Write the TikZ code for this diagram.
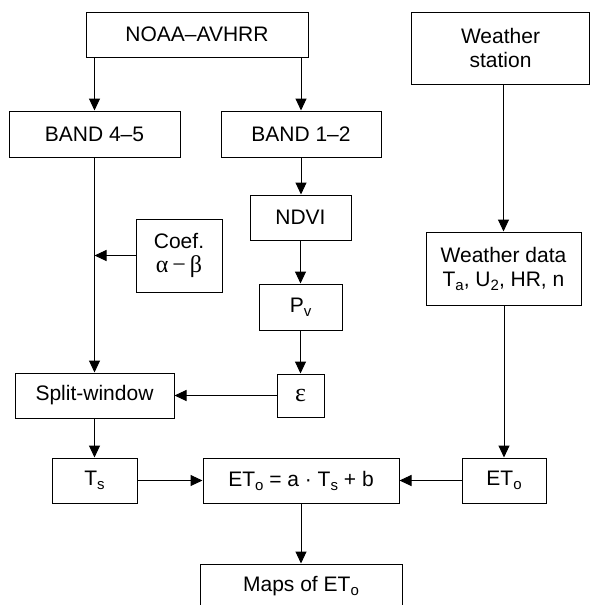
\documentclass[tikz,border=0pt]{standalone}
\usepackage{fontspec}
\setmainfont{Liberation Sans}
\newfontfamily\symf{Liberation Serif}
\newcommand\sbs[1]{\raisebox{-4pt}{\fontsize{15}{15}\selectfont #1}}
\usetikzlibrary{arrows.meta}
\begin{document}
\begin{tikzpicture}[x=1pt,y=-1pt,
  box/.style={draw,line width=1pt,inner sep=0pt,align=center,
    font=\fontsize{21}{24}\selectfont},
  arr/.style={line width=1pt,-{Triangle[length=12pt,width=11pt]}}]
\useasboundingbox (0,0) rectangle (591,605);
\clip (0,0) rectangle (591,605);
\node[box,minimum width=222pt,minimum height=45pt] (noaa) at (197,34.5) {NOAA–AVHRR};
\node[box,minimum width=171pt,minimum height=46pt] (b45) at (94.5,134) {BAND 4–5};
\node[box,minimum width=160pt,minimum height=46pt] (b12) at (301,134) {BAND 1–2};
\node[box,minimum width=178pt,minimum height=72pt] (ws) at (500.5,48) {Weather\\station};
\node[box,minimum width=101pt,minimum height=45pt] (ndvi) at (300.5,217.5) {NDVI};
\node[box,minimum width=86pt,minimum height=73pt] (coef) at (179,255.5) {Coef.\\{\symf\fontsize{24}{24}\selectfont α\,−\,β}};
\node[box,minimum width=155pt,minimum height=73pt] (wd) at (503.5,268.5) {Weather data\\T\sbs{a}, U\sbs{2}, HR, n};
\node[box,minimum width=83pt,minimum height=46pt] (pv) at (300.5,307) {P\sbs{v}};
\node[box,minimum width=47pt,minimum height=43pt] (eps) at (300.5,395.5) {{\symf\fontsize{26}{26}\selectfont ε}};
\node[box,minimum width=159pt,minimum height=45pt] (split) at (94.5,395.5) {Split-window};
\node[box,minimum width=85pt,minimum height=45pt] (ts) at (94.5,480.5) {T\sbs{s}};
\node[box,minimum width=196pt,minimum height=45pt] (eq) at (301,480.5) {ET\sbs{o} = a · T\sbs{s} + b};
\node[box,minimum width=84pt,minimum height=45pt] (eto) at (504,480.5) {ET\sbs{o}};
\node[box,minimum width=202pt,minimum height=45pt] (maps) at (301,586.5) {Maps of ET\sbs{o}};
\draw[arr] (noaa.south -| b45) -- (b45.north);
\draw[arr] (noaa.south -| b12) -- (b12.north);
\draw[arr] (b12.south) -- (ndvi.north -| b12);
\draw[arr] (ndvi.south) -- (pv.north);
\draw[arr] (pv.south) -- (eps.north);
\draw[arr] (b45.south) -- (split.north);
\draw[arr] (coef.west) -- (coef.west -| b45);
\draw[arr] (eps.west) -- (split.east);
\draw[arr] (split.south) -- (ts.north);
\draw[arr] (ts.east) -- (eq.west);
\draw[arr] (eto.west) -- (eq.east);
\draw[arr] (ws.south -| wd) -- (wd.north);
\draw[arr] (wd.south -| eto) -- (eto.north);
\draw[arr] (eq.south) -- (maps.north);
\end{tikzpicture}
\end{document}
